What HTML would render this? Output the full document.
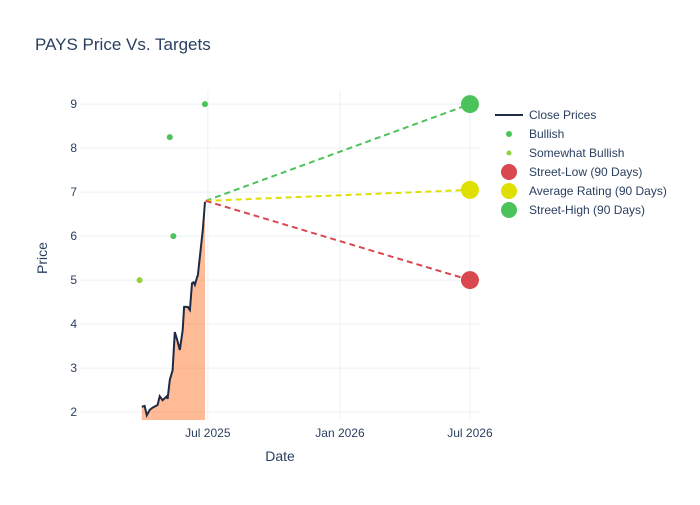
<!DOCTYPE html>
<html><head><meta charset="utf-8"><style>
body{margin:0;background:#fff;font-family:"Liberation Sans",sans-serif;}
svg text{font-family:"Liberation Sans",sans-serif;fill:#2a3f5f;}
</style></head><body>
<svg id="chart" width="700" height="500" xmlns="http://www.w3.org/2000/svg">
<text x="35" y="50" font-size="17">PAYS Price Vs. Targets</text>
<g id="grid"></g>
<g id="marks"></g>
<g id="axes"></g>
<text x="280" y="461" font-size="14" text-anchor="middle">Date</text>
<text x="47" y="258" font-size="14" text-anchor="middle" transform="rotate(-90 47 258)">Price</text>
<g id="legend"></g>
</svg>
<script>
const priceDates=["2025-03-31","2025-04-04","2025-04-07","2025-04-11","2025-04-15","2025-04-22","2025-04-25","2025-04-29","2025-05-05","2025-05-06","2025-05-09","2025-05-13","2025-05-16","2025-05-20","2025-05-23","2025-05-27","2025-05-29","2025-06-03","2025-06-06","2025-06-09","2025-06-11","2025-06-13","2025-06-16","2025-06-17","2025-06-24","2025-06-27"];
const priceValues=[2.12,2.14,1.93,2.05,2.1,2.16,2.36,2.27,2.36,2.3,2.73,2.95,3.82,3.6,3.41,3.86,4.39,4.39,4.32,4.93,4.95,4.89,5.07,5.1,6.14,6.78];
const bullishDates=["2025-05-09","2025-05-14","2025-06-27"];
const bullishValues=[8.25,6.0,9.0];
const somewhatDates=["2025-03-28"];
const somewhatValues=[5.0];
const targetStart="2025-06-28";
const targetStartValue=6.8;
const targetDate="2026-07-01";
const targetLow=5.0, targetAvg=7.05, targetHigh=9.0;
const yTicks=[2,3,4,5,6,7,8,9];
const xTickDates=["2025-07-01","2026-01-01","2026-07-01"];
const xTickLabels=["Jul 2025","Jan 2026","Jul 2026"];

const L=80,R=480,T=90,B=420;
const d0=Date.UTC(2025,0,4),d1=Date.UTC(2026,6,15);
function dt(s){const p=s.split('-');return Date.UTC(+p[0],+p[1]-1,+p[2]);}
function X(s){return L+(dt(s)-d0)/(d1-d0)*(R-L);}
const y0=1.82,y1=9.32;
function Y(v){return B-(v-y0)/(y1-y0)*(B-T);}
const NS="http://www.w3.org/2000/svg";
function mk(tag,attrs,parent){const e=document.createElementNS(NS,tag);for(const k in attrs)e.setAttribute(k,attrs[k]);document.getElementById(parent).appendChild(e);return e;}
yTicks.forEach(v=>{
 const l=mk('line',{x1:L,x2:R,y1:Y(v),y2:Y(v),stroke:'#ebf0f8','stroke-width':1},'grid');
 
 
 const t=mk('text',{x:L-3,y:Y(v)+4,'font-size':12,'text-anchor':'end'},'axes');t.textContent=v;
 
 
});
xTickDates.forEach((d,i)=>{
 const l=mk('line',{x1:X(d),x2:X(d),y1:T,y2:B,stroke:'#ebf0f8','stroke-width':1},'grid');
 
 
 const t=mk('text',{x:X(d),y:B+17,'font-size':12,'text-anchor':'middle'},'axes');t.textContent=xTickLabels[i];
 
 
});
let pts=priceDates.map((d,i)=>X(d).toFixed(1)+','+Y(priceValues[i]).toFixed(1));
const area=mk('polygon',{points:X(priceDates[0])+','+B+' '+pts.join(' ')+' '+X(priceDates[priceDates.length-1])+','+B,fill:'rgba(255,140,80,0.6)'},'marks');


const line=mk('polyline',{points:pts.join(' '),fill:'none',stroke:'#1f2a44','stroke-width':2},'marks');


[[targetHigh,'#4cc35a','street-high'],[targetAvg,'#e0e000','average-rating'],[targetLow,'#d9484f','street-low']].forEach(t=>{
 const l=mk('line',{x1:X(targetStart),y1:Y(targetStartValue),x2:X(targetDate),y2:Y(t[0]),stroke:t[1],'stroke-width':2,'stroke-dasharray':'6,4'},'marks');
 
 
 const c=mk('circle',{cx:X(targetDate),cy:Y(t[0]),r:9,fill:t[1]},'marks');
 
 
});
bullishDates.forEach((d,i)=>{const c=mk('circle',{cx:X(d),cy:Y(bullishValues[i]),r:3,fill:'#4cc35a'},'marks');
 
 });
somewhatDates.forEach((d,i)=>{const c=mk('circle',{cx:X(d),cy:Y(somewhatValues[i]),r:3,fill:'#93d13a'},'marks');
 
 });
const leg=[["Close Prices","line"],["Bullish",'#4cc35a',3],["Somewhat Bullish",'#93d13a',2.5],["Street-Low (90 Days)",'#d9484f',8],["Average Rating (90 Days)",'#e0e000',8],["Street-High (90 Days)",'#4cc35a',8]];
leg.forEach((e,i)=>{const y=115+i*19;
 if(e[1]==='line'){const l=mk('line',{x1:495,x2:523,y1:y,y2:y,stroke:'#1f2a44','stroke-width':2},'legend');}
 else{const c=mk('circle',{cx:509,cy:y,r:e[2],fill:e[1]},'legend');}
 const t=mk('text',{x:529,y:y+4,'font-size':12},'legend');t.textContent=e[0];
 
 
});
</script>
</body></html>
